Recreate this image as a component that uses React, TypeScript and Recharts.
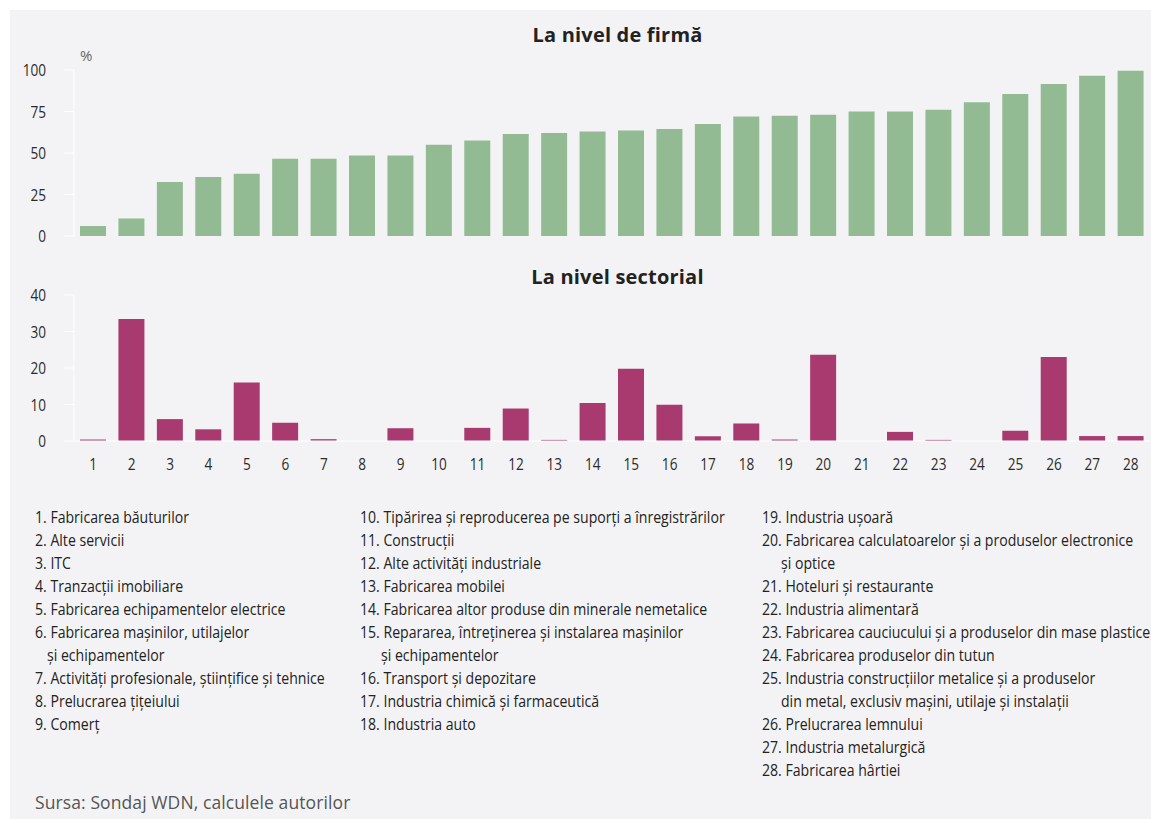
import React from 'react';
import { BarChart, Bar, XAxis, YAxis } from 'recharts';

// category numbers 1..28 (x axis labels)
const categories = ['1', '2', '3', '4', '5', '6', '7', '8', '9', '10', '11', '12', '13', '14',
  '15', '16', '17', '18', '19', '20', '21', '22', '23', '24', '25', '26', '27', '28'];

// La nivel de firmă, %
const firmValues = [6, 10.5, 32.5, 35.5, 37.5, 46.5, 46.5, 48.5, 48.5, 55, 57.5, 61.5, 62, 63,
  63.5, 64.5, 67.5, 72, 72.5, 73, 75, 75, 76, 80.5, 85.5, 91.5, 96.5, 99.5];

// La nivel sectorial, %
const sectorValues = [0.4, 33.4, 6, 3.2, 16, 5, 0.5, 0, 3.5, 0, 3.6, 8.9, 0.3, 10.4,
  19.8, 9.9, 1.3, 4.8, 0.4, 23.6, 0, 2.5, 0.3, 0, 2.8, 23, 1.35, 1.35];

const firmTicks = [0, 25, 50, 75, 100];
const sectorTicks = [0, 10, 20, 30, 40];

// legend columns, each item is a list of lines
const legendCol1 = [
  ['1. Fabricarea băuturilor'],
  ['2. Alte servicii'],
  ['3. ITC'],
  ['4. Tranzacții imobiliare'],
  ['5. Fabricarea echipamentelor electrice'],
  ['6. Fabricarea mașinilor, utilajelor', 'și echipamentelor'],
  ['7. Activități profesionale, științifice și tehnice'],
  ['8. Prelucrarea țițeiului'],
  ['9. Comerț'],
];
const legendCol2 = [
  ['10. Tipărirea și reproducerea pe suporți a înregistrărilor'],
  ['11. Construcții'],
  ['12. Alte activități industriale'],
  ['13. Fabricarea mobilei'],
  ['14. Fabricarea altor produse din minerale nemetalice'],
  ['15. Repararea, întreținerea și instalarea mașinilor', 'și echipamentelor'],
  ['16. Transport și depozitare'],
  ['17. Industria chimică și farmaceutică'],
  ['18. Industria auto'],
];
const legendCol3 = [
  ['19. Industria ușoară'],
  ['20. Fabricarea calculatoarelor și a produselor electronice', 'și optice'],
  ['21. Hoteluri și restaurante'],
  ['22. Industria alimentară'],
  ['23. Fabricarea cauciucului și a produselor din mase plastice'],
  ['24. Fabricarea produselor din tutun'],
  ['25. Industria construcțiilor metalice și a produselor', 'din metal, exclusiv mașini, utilaje și instalații'],
  ['26. Prelucrarea lemnului'],
  ['27. Industria metalurgică'],
  ['28. Fabricarea hârtiei'],
];

const sourceText = 'Sursa: Sondaj WDN, calculele autorilor';

const font = "'Open Sans', 'Noto Sans', sans-serif";

const firmData = categories.map((c, i) => ({ cat: c, value: firmValues[i] }));
const sectorData = categories.map((c, i) => ({ cat: c, value: sectorValues[i] }));

// condensed-looking tick: squeeze the text horizontally
const CondTick = (props: any) => {
  const { x, y, payload, textAnchor, dy } = props;
  return (
    <text
      x={0}
      y={0}
      dy={dy}
      transform={`translate(${x},${y}) scale(0.8,1)`}
      textAnchor={textAnchor}
      fontSize={17}
      fill="#2b2b2b"
      fontFamily={font}
    >
      {payload.value}
    </text>
  );
};

const LegendColumn: React.FC<{ items: string[][]; left: number; indent: number }> = ({ items, left, indent }) => {
  const lines: { text: string; cont: boolean }[] = [];
  items.forEach(it => it.forEach((t, j) => lines.push({ text: t, cont: j > 0 })));
  return (
    <div style={{ position: 'absolute', left, top: 506 }}>
      {lines.map((l, i) => (
        <div key={i} style={{ height: 23, lineHeight: '23px', whiteSpace: 'nowrap', paddingLeft: l.cont ? indent : 0 }}>
          <span style={{ display: 'inline-block', transform: 'scaleX(0.88)', transformOrigin: 'left center' }}>{l.text}</span>
        </div>
      ))}
    </div>
  );
};

const App: React.FC = () => {
  return (
    <div style={{ position: 'absolute', left: 0, top: 0, width: 1151, height: 819, background: '#ffffff', overflow: 'hidden' }}>
      <div style={{ position: 'absolute', left: 10, top: 10, width: 1141, height: 809, background: '#f3f3f5' }} />

      <div style={{ position: 'absolute', left: 0, top: 21, width: 1235, textAlign: 'center', fontFamily: font, fontWeight: 700, fontSize: 20, letterSpacing: 0.2, color: '#222' }}>
        La nivel de firmă
      </div>
      <div style={{ position: 'absolute', left: 80, top: 45, fontFamily: font, fontSize: 15, color: '#666' }}>%</div>

      <div style={{ position: 'absolute', left: 0, top: 0 }}>
        <BarChart width={1151} height={250} data={firmData} margin={{ top: 70, right: 1, left: 10, bottom: 14 }} barSize={26}>
          <XAxis dataKey="cat" hide />
          <YAxis
            domain={[0, 100]}
            ticks={firmTicks}
            width={64}
            tick={<CondTick dy="0.355em" />}
            tickSize={10}
            tickMargin={18}
            axisLine={{ stroke: '#ffffff' }}
            tickLine={{ stroke: '#ffffff' }}
            interval={0}
          />
          <Bar dataKey="value" fill="#93bb93" isAnimationActive={false} />
        </BarChart>
      </div>

      <div style={{ position: 'absolute', left: 0, top: 263, width: 1235, textAlign: 'center', fontFamily: font, fontWeight: 700, fontSize: 20, letterSpacing: 0.2, color: '#222' }}>
        La nivel sectorial
      </div>

      <div style={{ position: 'absolute', left: 0, top: 250 }}>
        <BarChart width={1151} height={226} data={sectorData} margin={{ top: 45, right: 1, left: 10, bottom: 0 }} barSize={26}>
          <XAxis
            dataKey="cat"
            height={35}
            interval={0}
            tick={<CondTick dy="0.71em" />}
            tickSize={0}
            tickMargin={17}
            axisLine={{ stroke: '#ffffff' }}
            tickLine={false}
          />
          <YAxis
            domain={[0, 40]}
            ticks={sectorTicks}
            width={64}
            tick={<CondTick dy="0.355em" />}
            tickSize={10}
            tickMargin={18}
            axisLine={{ stroke: '#ffffff' }}
            tickLine={{ stroke: '#ffffff' }}
            interval={0}
          />
          <Bar dataKey="value" fill="#a83a6f" isAnimationActive={false} />
        </BarChart>
      </div>

      <div style={{ fontFamily: font, fontSize: 16, color: '#222' }}>
        <LegendColumn items={legendCol1} left={35} indent={12} />
        <LegendColumn items={legendCol2} left={360} indent={21} />
        <LegendColumn items={legendCol3} left={762} indent={19} />
      </div>

      <div style={{ position: 'absolute', left: 35, top: 790, fontFamily: font, fontSize: 17.5, letterSpacing: 0.1, color: '#555' }}>
        {sourceText}
      </div>
    </div>
  );
};

export default App;
